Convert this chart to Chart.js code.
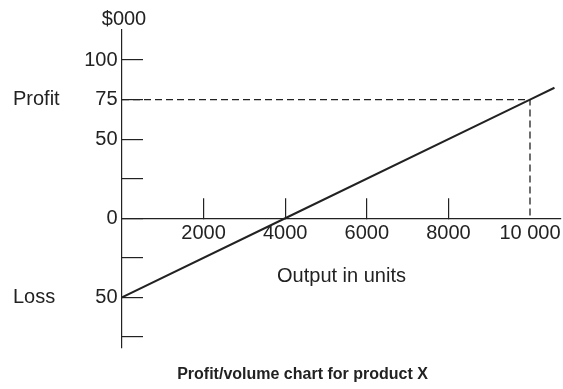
<!DOCTYPE html>
<html>
<head>
<meta charset="utf-8">
<script src="https://cdn.jsdelivr.net/npm/chart.js@4/dist/chart.umd.min.js"></script>
<style>
  html, body { margin: 0; padding: 0; background: #ffffff; }
  #wrap { width: 563px; height: 389px; }
</style>
</head>
<body>
<div id="wrap"><canvas id="c" width="563" height="389"></canvas></div>
<script>
// ---- data ----
const xTickValues = [2000, 4000, 6000, 8000, 10000];
const xTickLabels = ['2000', '4000', '6000', '8000', '10 000'];
const yTickValues = [100, 75, 50, 25, 0, -25, -50, -75];
const yTickLabels = ['100', '75', '50', '', '0', '', '50', ''];
const lineUnits = [0, 4000, 10000, 10600];
const lineProfit = [-50, 0, 75, 82.5];
const markerUnits = [0, 10000, 10000];
const markerProfit = [75, 75, 0];
const sideLabels = ['Profit', 'Loss'];
const sideLabelValues = [75, -50];
const unitLabel = '$000';
const xAxisTitle = 'Output in units';
const chartTitle = 'Profit/volume chart for product X';

const INK = '#222222';
Chart.defaults.font.family = "'Liberation Sans', Arial, Helvetica, sans-serif";
Chart.defaults.color = INK;

const extraText = {
  id: 'extraText',
  afterDraw(chart) {
    const ctx = chart.ctx;
    const ys = chart.scales.y;
    const area = chart.chartArea;
    ctx.save();
    ctx.fillStyle = INK;
    ctx.font = "20px 'Liberation Sans', Arial, sans-serif";
    ctx.textBaseline = 'middle';
    ctx.textAlign = 'left';
    sideLabels.forEach((t, i) => {
      ctx.fillText(t, 13, ys.getPixelForValue(sideLabelValues[i]));
    });
    ctx.textAlign = 'center';
    ctx.fillText(unitLabel, area.left + 2, 19);
    ctx.restore();
  }
};

new Chart(document.getElementById('c'), {
  type: 'line',
  data: {
    datasets: [
      {
        data: lineUnits.map((u, i) => ({x: u, y: lineProfit[i]})),
        borderColor: INK,
        borderWidth: 2,
        pointRadius: 0,
        tension: 0
      },
      {
        data: markerUnits.map((u, i) => ({x: u, y: markerProfit[i]})),
        borderColor: INK,
        borderWidth: 1.3,
        borderDash: [7, 4],
        pointRadius: 0,
        tension: 0
      }
    ]
  },
  options: {
    responsive: false,
    animation: false,
    layout: { padding: { left: 44, right: 2, top: 30, bottom: 0 } },
    plugins: {
      legend: { display: false },
      tooltip: { enabled: false },
      title: {
        display: true,
        text: chartTitle,
        position: 'bottom',
        color: INK,
        font: { size: 16, weight: 'bold' },
        padding: { top: 17.4, bottom: 4.4 }
      }
    },
    scales: {
      x: {
        type: 'linear',
        position: { y: 0 },
        min: 0,
        max: 10760,
        afterBuildTicks: s => { s.ticks = xTickValues.map(v => ({value: v})); },
        afterFit: s => { s.height = 70; s.paddingLeft = 0; s.paddingRight = 0; },
        ticks: {
          autoSkip: false, maxRotation: 0, minRotation: 0,
          padding: 24,
          color: INK,
          font: { size: 20 },
          callback: (v) => { const i = xTickValues.indexOf(v); return i >= 0 ? xTickLabels[i] : ''; }
        },
        grid: {
          drawOnChartArea: false,
          drawTicks: true,
          tickLength: -21,
          lineWidth: 1.2,
          color: (c) => (c.tick && c.tick.value === 10000) ? 'rgba(0,0,0,0)' : INK
        },
        border: { display: true, color: INK, width: 1.2 },
        title: {
          display: true,
          text: xAxisTitle,
          color: INK,
          font: { size: 20 },
          padding: 0
        }
      },
      y: {
        type: 'linear',
        position: 'left',
        min: -82,
        max: 119,
        afterBuildTicks: s => { s.ticks = yTickValues.map(v => ({value: v})); },
        afterFit: s => { s.width = 78; s.paddingTop = 0; s.paddingBottom = 0; },
        ticks: {
          autoSkip: false,
          padding: 25.5,
          color: INK,
          font: { size: 20 },
          callback: (v) => { const i = yTickValues.indexOf(v); return i >= 0 ? yTickLabels[i] : ''; }
        },
        grid: {
          drawOnChartArea: false,
          drawTicks: true,
          tickLength: -21,
          lineWidth: 1.2,
          color: INK
        },
        border: { display: true, color: INK, width: 1.2 }
      }
    }
  },
  plugins: [extraText]
});
</script>
</body>
</html>
